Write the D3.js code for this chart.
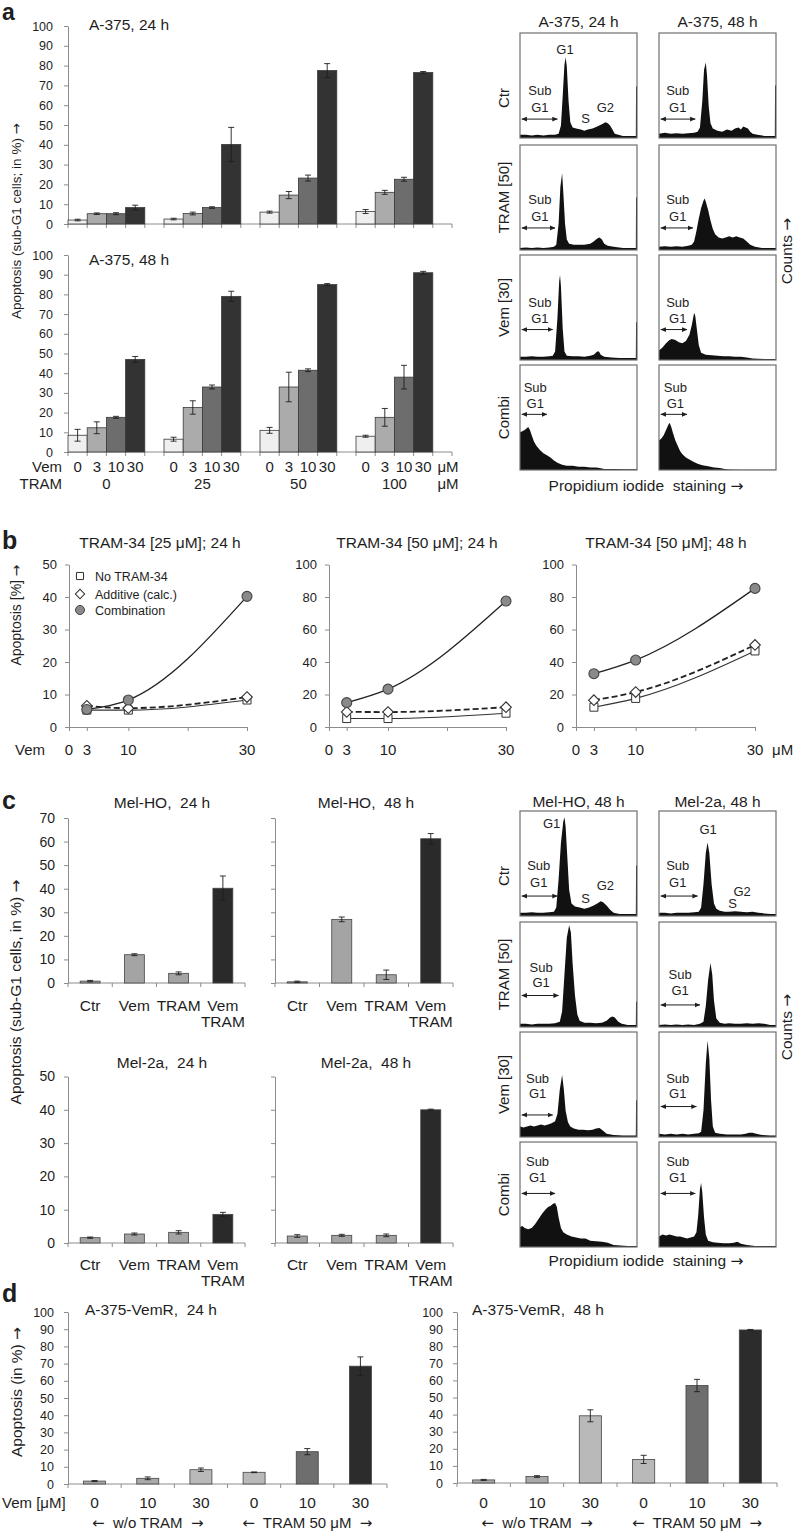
<!DOCTYPE html>
<html><head><meta charset="utf-8">
<script src="https://cdn.jsdelivr.net/npm/d3@7"></script>
<style>
body{margin:0;background:#fff;}
svg{display:block;font-family:"Liberation Sans",Arial,Helvetica,sans-serif;}
text{white-space:pre;}
</style></head><body>
<svg id="fig" width="798" height="1534"></svg>
<script>
// ---------------- DATA ----------------
// Panel a: grouped bars (Vem doses within TRAM doses)
const aVem = ["0","3","10","30"];
const aTram = ["0","25","50","100"];
const a24Values = [[2,5.2,5.2,8.3],[2.5,5.3,8.3,40.2],[6,14.6,23.2,77.5],[6.3,16,22.6,76.5]];
const a24Errors = [[0.4,0.4,0.5,1.2],[0.4,0.7,0.4,8.6],[0.5,1.8,1.5,3.5],[1,1,1,0.5]];
const a48Values = [[8.5,12.3,17.6,47],[6.5,22.6,33,79],[11,33,41.5,85],[8,17.6,38,91]];
const a48Errors = [[3,3,0.5,1.5],[1,3.4,1,2.6],[1.5,7.5,0.7,0.5],[0.5,4.5,6,0.7]];
const aColors = ["#efefef","#ababab","#6d6d6d","#333333"];

// Panel b: line charts
const bVem = [3,10,30];
const bTicks = [0,3,10,20,30];
const bTickLabels = [0,3,10,30];
const b1None = [5.2,5.2,8.3], b1Add = [6.5,5.8,9.2], b1Comb = [5.4,8.3,40.2];
const b2None = [5.2,5.2,8.5], b2Add = [9.3,9.2,12.2], b2Comb = [15,23.3,77.5];
const b3None = [12.2,17.6,46.8], b3Add = [16.5,21.5,50.5], b3Comb = [32.8,41.2,85.3];
const bLegend = ["No TRAM-34","Additive (calc.)","Combination"];

// Panel c: bars
const cCats = ["Ctr","Vem","TRAM","Vem TRAM"];
const cHO24 = [0.8,12,4.1,40.2], cHO24Err = [0.3,0.4,0.6,5.2];
const cHO48 = [0.5,27,3.5,61.2], cHO48Err = [0.3,1,2,2.2];
const c2a24 = [1.6,2.7,3.2,8.6], c2a24Err = [0.2,0.3,0.5,0.6];
const c2a48 = [2.1,2.3,2.3,40], c2a48Err = [0.4,0.3,0.4,0.2];
const cColors = ["#a4a4a4","#a4a4a4","#a4a4a4","#2a2a2a"];

// Panel d: bars
const dVem = ["0","10","30","0","10","30"];
const dGroups = ["w/o TRAM","TRAM 50 \u03bcM"];
const d24 = [1.7,3.3,8.3,6.8,18.8,68.5], d24Err = [0.3,0.8,1,0.2,1.8,5.4];
const d48 = [1.8,3.8,39.3,13.8,57,89.5], d48Err = [0.3,0.5,3.5,2.4,3.6,0.3];
const dColors = ["#a9a9a9","#a9a9a9","#b9b9b9","#b9b9b9","#6e6e6e","#2c2c2c"];

// Histograms: [PI channel %, relative count %]
const hA_ctr24 = [[0,3],[5,3],[10,2.5],[15,3],[20,2.5],[25,3],[30,3],[33,4],[35,12],[36.5,40],[38,70],[39,77],[40,68],[41.5,35],[43,15],[45,10],[48,9],[52,8],[55,7],[58,8],[62,9],[66,11],[70,13],[73,15],[75,14],[77,12],[79,8],[81,4],[84,3],[88,2],[92,2],[96,2],[99,2],[99.2,49],[100,49]];
const hA_ctr48 = [[0,4],[5,5],[10,4],[15,4.5],[20,4],[25,4.5],[30,5],[33,6],[35,10],[37,35],[38.5,65],[40,72],[41,60],[42.5,30],[44,14],[46,9],[50,7],[54,6],[58,8],[62,7],[65,9],[68,10],[70,8],[72,11],[74,10],[76,9],[78,6],[80,4],[84,3],[90,2],[95,2],[99,2],[99.2,50],[100,50]];
const hA_tram24 = [[0,2],[5,2.5],[10,2],[15,2.5],[20,2],[25,2.5],[29,3],[31,5],[33,25],[34.5,60],[36,73],[37,55],[38.5,25],[40,10],[42,6],[46,5],[50,5],[55,5],[60,6],[63,8],[66,11],[68,12],[70,10],[72,6],[75,4],[80,3],[88,2],[95,2],[99,2],[99.2,50],[100,50]];
const hA_tram48 = [[0,3],[5,3.5],[10,3],[15,3.5],[20,3],[25,4],[28,5],[30,8],[32,18],[34,30],[36,40],[38,47],[39,49],[40,46],[42,38],[44,28],[46,20],[48,15],[51,12],[54,11],[57,12],[60,13],[63,12],[66,13],[69,12],[72,11],[75,8],[78,5],[82,3],[88,2],[95,2],[100,2]];
const hA_vem24 = [[0,3],[5,3],[10,3.5],[15,3],[20,3],[25,3.5],[28,4],[30,8],[32,40],[33.5,75],[34.2,81],[35,70],[36.5,30],[38,8],[40,4],[45,3.5],[50,3.5],[55,3],[60,4],[63,5],[66,8],[67.5,8],[69,5],[72,3],[78,2.5],[85,2],[92,2],[99,2],[99.2,36],[100,36]];
const hA_vem48 = [[0,9],[3,12],[6,16],[9,19],[11,20],[14,19],[17,17],[20,16],[23,18],[26,24],[28,33],[30,45],[31,42],[32.5,28],[34,14],[36,7],[40,5],[45,4.5],[50,4],[55,3.5],[60,3.5],[65,3],[70,3],[75,2.5],[80,1.5],[90,1],[100,1]];
const hA_comb24 = [[0,36],[2,37],[4,38],[6,40],[7,41],[8.5,38],[10,33],[12,27],[14,23],[17,19],[20,16],[23,14],[26,12],[29,9],[32,7],[36,5],[40,4],[45,4],[50,3],[55,3],[60,2.5],[65,2.5],[68,2],[72,1],[80,1],[90,0.8],[100,0.8]];
const hA_comb48 = [[0,28],[2,30],[4,33],[6,38],[8,43],[9,45],[10.5,41],[12,35],[14,28],[16,23],[18,18],[20,15],[23,12],[26,10],[29,8],[33,6],[37,4.5],[42,3.5],[47,2.5],[52,2],[56,1],[60,0.5],[70,0.3],[100,0.3]];
const hC_ctrHO = [[0,3],[5,3],[10,3.5],[15,3],[20,3],[25,3.5],[29,4],[31,8],[33,35],[35,70],[37,90],[38,94],[39,85],[40.5,55],[42,25],[44,12],[47,9],[51,8],[55,7],[59,8],[63,10],[66,12],[69,14],[71,13],[74,10],[77,6],[80,3],[85,2],[92,2],[99,2],[99.2,48],[100,48]];
const hC_ctr2a = [[0,3],[5,3],[10,2.5],[15,3],[20,3],[25,3],[30,3.5],[34,4],[36,8],[38,30],[40,60],[41.5,70],[43,60],[45,30],[47,12],[49,7],[52,5],[56,4],[60,4],[65,4.5],[70,4],[75,3.5],[80,4],[85,3],[90,2.5],[95,2],[100,2]];
const hC_tramHO = [[0,3],[5,3],[10,2.5],[15,3],[20,3],[25,3],[30,3.5],[34,5],[36,15],[38,50],[40,85],[42,97],[43.5,90],[45,60],[47,30],[49,12],[51,6],[55,4],[60,4],[65,3.5],[70,4],[74,6],[77,9],[79,10],[81,9],[84,5],[87,3],[92,2],[99,2],[99.2,24],[100,24]];
const hC_tram2a = [[0,2],[5,2.5],[10,2],[15,2.5],[20,2],[25,2.5],[30,2],[35,3],[38,5],[40,20],[42,45],[44,61],[45.5,50],[47,25],[49,8],[52,4],[56,3],[60,3.5],[65,3],[70,3],[75,3.5],[80,3],[85,3.5],[90,3],[95,2],[100,2]];
const hC_vemHO = [[0,10],[3,9],[6,10],[9,11],[12,10],[15,11],[18,12],[21,11],[24,12],[27,13],[30,15],[32,22],[34,45],[36,59],[37.5,45],[39,25],[41,14],[43,10],[46,8],[50,7],[54,7],[58,6.5],[62,7],[65,8],[68,8.5],[71,6],[74,3],[80,2],[88,1.5],[95,1.5],[99,1.5],[99.2,35],[100,35]];
const hC_vem2a = [[0,3],[5,2.5],[10,3],[15,2.5],[20,3],[25,2.5],[30,3],[34,3.5],[36,5],[38,25],[40,70],[41.5,92],[43,75],[44.5,35],[46,10],[48,4],[52,3],[58,2.5],[64,2.5],[70,2.5],[74,3],[77,4],[80,4],[83,3],[88,2],[95,1.5],[100,1.5]];
const hC_combHO = [[0,19],[2,20],[4,18],[7,17],[10,18],[13,22],[16,27],[19,32],[22,36],[24,38],[26,39],[28,41],[30,42],[31.5,38],[33,28],[35,18],[37,14],[40,12],[44,10],[48,9],[52,8],[56,8],[60,6],[65,5.5],[70,5],[75,4],[80,2],[86,1.5],[92,1],[100,1]];
const hC_comb2a = [[0,10],[3,12],[6,11],[9,12],[12,11],[15,10],[18,10],[21,9],[24,8],[27,9],[30,10],[32,14],[33.5,30],[35,55],[36,61],[37,52],[38.5,28],[40,12],[42,6],[46,4.5],[50,4],[55,3.5],[60,3.5],[64,4],[67,5],[70,3],[75,2],[82,1],[90,1],[100,1]];
const histRowLabels = ["Ctr","TRAM [50]","Vem [30]","Combi"];

// ---------------- DRAWING ----------------
const INK = "#1e1e1e", AXIS = "#8c8c8c";
const svg = d3.select("#fig");
const defs = svg.append("defs");
defs.append("marker").attr("id","ah").attr("viewBox","0 0 8 8").attr("refX",7.5).attr("refY",4)
  .attr("markerWidth",5.5).attr("markerHeight",5.5).attr("orient","auto-start-reverse")
  .append("path").attr("d","M0,0.5 L8,4 L0,7.5 Z").attr("fill",INK);

function fillText(t,s){
  s.split(/([\u2190\u2192])/).forEach(p=>{
    if(!p) return;
    const ts=t.append("tspan").text(p);
    if(/[\u2190\u2192]/.test(p)) ts.attr("font-family","DejaVu Sans");
  });
  return t;
}
function text(g,x,y,s,o={}){
  const t=g.append("text").attr("x",x).attr("y",y).attr("font-size",o.size||13)
   .attr("text-anchor",o.anchor||"start").attr("fill",INK);
  fillText(t,s);
  if(o.weight) t.attr("font-weight",o.weight);
  return t;
}
function vtext(g,cx,cy,s,size){
  const t=g.append("text").attr("transform",`translate(${cx},${cy}) rotate(-90)`)
   .attr("text-anchor","middle").attr("font-size",size).attr("fill",INK);
  fillText(t,s);
}
function styleAxis(sel,fs){
  sel.attr("font-family",null).attr("font-size",fs||12);
  sel.select(".domain").attr("stroke",AXIS);
  sel.selectAll(".tick line").attr("stroke",AXIS);
  sel.selectAll(".tick text").attr("fill",INK);
}
function errorBars(g,recs,cx,y,cap){
  recs.forEach(d=>{
    const x0=cx(d), lo=y(Math.max(0,d.val-d.err)), hi=y(d.val+d.err);
    g.append("line").attr("x1",x0).attr("x2",x0).attr("y1",lo).attr("y2",hi).attr("stroke",INK).attr("stroke-width",0.9);
    [lo,hi].forEach(yy=>g.append("line").attr("x1",x0-cap).attr("x2",x0+cap).attr("y1",yy).attr("y2",yy).attr("stroke",INK).attr("stroke-width",0.9));
  });
}
const root = svg.append("g");

// panel letters
text(root,2,20,"a",{size:23,weight:"bold"});
text(root,2,549,"b",{size:25,weight:"bold"});
text(root,2,809,"c",{size:25,weight:"bold"});
text(root,2,1302,"d",{size:25,weight:"bold"});

// ---- Panel a bars
function drawGroupedBars(yZero,yFull,vals,errs,title,titleY){
  const g=svg.append("g");
  const x=d3.scaleBand().domain(d3.range(20)).range([68,452]).padding(0);
  const y=d3.scaleLinear().domain([0,100]).range([yZero,yFull]);
  const ax=g.append("g").attr("transform","translate(68,0)")
    .call(d3.axisLeft(y).tickValues(d3.range(0,101,10)).tickSize(4).tickSizeOuter(0).tickPadding(11));
  styleAxis(ax,12.5);
  g.append("line").attr("x1",68).attr("x2",452).attr("y1",yZero).attr("y2",yZero).attr("stroke",AXIS);
  d3.range(21).forEach(i=>{
    const px=i<20?x(i):x.range()[1];
    g.append("line").attr("x1",px).attr("x2",px).attr("y1",yZero).attr("y2",yZero+4).attr("stroke",AXIS);
  });
  const recs=aTram.flatMap((t,gi)=>aVem.map((v,vi)=>({slot:gi*5+vi,val:vals[gi][vi],err:errs[gi][vi],vi})));
  g.selectAll("rect.bar").data(recs).join("rect").attr("class","bar")
    .attr("x",d=>x(d.slot)).attr("y",d=>y(d.val)).attr("width",x.bandwidth())
    .attr("height",d=>yZero-y(d.val)).attr("fill",d=>aColors[d.vi]).attr("stroke","#3a3a3a").attr("stroke-width",0.8);
  errorBars(g,recs,d=>x(d.slot)+x.bandwidth()/2,y,3);
  text(g,89,titleY,title,{size:15.5});
  return x;
}
drawGroupedBars(224,26,a24Values,a24Errors,"A-375, 24 h",30);
const xa=drawGroupedBars(452,255,a48Values,a48Errors,"A-375, 48 h",265);
{
  const g=svg.append("g");
  text(g,62,472,"Vem",{size:15,anchor:"end"});
  text(g,62,489,"TRAM",{size:15,anchor:"end"});
  aTram.forEach((t,gi)=>{
    aVem.forEach((v,vi)=>text(g,xa(gi*5+vi)+xa.bandwidth()/2,472,v,{size:15,anchor:"middle"}));
    text(g,xa(gi*5)+2*xa.bandwidth(),489,t,{size:15,anchor:"middle"});
  });
  text(g,448,472,"\u03bcM",{size:15,anchor:"middle"});
  text(g,448,489,"\u03bcM",{size:15,anchor:"middle"});
  vtext(g,21,221,"Apoptosis (sub-G1 cells; in %) \u2192",13.5);
}

// ---- Histograms
function drawHist(x0,y0,w,h,pts,ann){
  const g=svg.append("g");
  const x=d3.scaleLinear().domain([0,100]).range([x0,x0+w]);
  const y=d3.scaleLinear().domain([0,100]).range([y0+h,y0]);
  const area=d3.area().x(d=>x(d[0])).y0(y(0)).y1(d=>y(d[1]));
  g.append("path").datum(pts).attr("d",area).attr("fill","#111");
  g.append("rect").attr("x",x0).attr("y",y0).attr("width",w).attr("height",h)
    .attr("fill","none").attr("stroke","#6f6f6f").attr("stroke-width",1.2);
  g.append("line").attr("x1",x(1.5)).attr("x2",x(ann.end)).attr("y1",y(ann.ay)).attr("y2",y(ann.ay))
    .attr("stroke",INK).attr("stroke-width",1).attr("marker-start","url(#ah)").attr("marker-end","url(#ah)");
  text(g,x(ann.sx),y(ann.sub)+4.5,"Sub",{size:13,anchor:"middle"});
  text(g,x(ann.sx),y(ann.g1)+4.5,"G1",{size:13,anchor:"middle"});
  (ann.extra||[]).forEach(e=>text(g,x(e[1]),y(e[2])+4.5,e[0],{size:13,anchor:"middle"}));
}
const histCols=[520,659], histW=117, histH=105;
function drawHistBlock(rowsY,hists,anns,titles,titleY,piY,countsY){
  const g=svg.append("g");
  titles.forEach((t,i)=>text(g,histCols[i]+histW/2,titleY,t,{size:15.5,anchor:"middle"}));
  rowsY.forEach((ry,r)=>{
    const cy = r===0 ? ry+histH*0.62 : ry+histH/2;
    vtext(g,509,cy,histRowLabels[r],15);
    hists[r].forEach((hd,c)=>drawHist(histCols[c],ry,histW,histH,hd,anns[r][c]));
  });
  text(g,646,piY,"Propidium iodide  staining \u2192",{size:15.5,anchor:"middle"});
  vtext(g,792,countsY,"Counts \u2192",15.5);
}
drawHistBlock([33,145,255,365],
  [[hA_ctr24,hA_ctr48],[hA_tram24,hA_tram48],[hA_vem24,hA_vem48],[hA_comb24,hA_comb48]],
  [[{sx:17,sub:45,g1:29,ay:18,end:32,extra:[["G1",38.5,84],["S",56,19],["G2",73,29]]},{sx:16,sub:45,g1:29,ay:18,end:31}],
   [{sx:17,sub:48,g1:32,ay:21,end:30},{sx:16,sub:48,g1:32,ay:21,end:29}],
   [{sx:17,sub:55,g1:40,ay:29,end:28},{sx:16,sub:55,g1:40,ay:29,end:24}],
   [{sx:13,sub:79,g1:63,ay:53,end:23},{sx:14,sub:79,g1:63,ay:53,end:24}]],
  ["A-375, 24 h","A-375, 48 h"],27,491,251);
drawHistBlock([811,922,1032,1142],
  [[hC_ctrHO,hC_ctr2a],[hC_tramHO,hC_tram2a],[hC_vemHO,hC_vem2a],[hC_combHO,hC_comb2a]],
  [[{sx:16,sub:48,g1:32,ay:19,end:32,extra:[["G1",27,88],["S",56,17],["G2",73,29]]},{sx:16,sub:48,g1:32,ay:19,end:33,extra:[["G1",42,82],["S",63,12],["G2",71,23]]}],
   [{sx:18,sub:57,g1:42,ay:30,end:33},{sx:18,sub:50,g1:35,ay:21,end:35}],
   [{sx:15,sub:56,g1:41,ay:21,end:28},{sx:16,sub:56,g1:41,ay:29,end:32}],
   [{sx:15,sub:81,g1:66,ay:51,end:30},{sx:16,sub:81,g1:66,ay:51,end:31}]],
  ["Mel-HO, 48 h","Mel-2a, 48 h"],807,1266,1027);

// ---- Panel b lines
function drawLines(xa0,x30,yMax,yStep,none,add,comb,title,titleCx,legend,um){
  const g=svg.append("g");
  const x=d3.scaleLinear().domain([0,30]).range([xa0,x30]);
  const y=d3.scaleLinear().domain([0,yMax]).range([727,564.5]);
  const ya=g.append("g").attr("transform",`translate(${x(0)},0)`)
    .call(d3.axisLeft(y).tickValues(d3.range(0,yMax+1,yStep)).tickSize(4).tickSizeOuter(0).tickPadding(8));
  styleAxis(ya,13);
  const xg=g.append("g").attr("transform",`translate(0,${y(0)})`)
    .call(d3.axisBottom(x).tickValues(bTicks).tickSize(4).tickSizeOuter(0).tickFormat(""));
  styleAxis(xg,13);
  bTickLabels.forEach(v=>text(g,x(v),755,String(v),{size:15,anchor:"middle"}));
  if(um) text(g,x(30)+17,755,"\u03bcM",{size:15});
  text(g,titleCx,548,title,{size:15.5,anchor:"middle"});
  const line=d3.line().x((d,i)=>x(bVem[i])).y(d=>y(d)).curve(d3.curveMonotoneX);
  g.append("path").datum(none).attr("d",line).attr("fill","none").attr("stroke","#333").attr("stroke-width",1.1);
  g.append("path").datum(add).attr("d",line).attr("fill","none").attr("stroke","#222").attr("stroke-width",1.8).attr("stroke-dasharray","6,3");
  g.append("path").datum(comb).attr("d",line).attr("fill","none").attr("stroke","#222").attr("stroke-width",1.3);
  const sq=d3.symbol().type(d3.symbolSquare).size(64), di=d3.symbol().type(d3.symbolSquare).size(56);
  g.selectAll("path.sq").data(none).join("path").attr("class","sq").attr("d",sq)
    .attr("transform",(d,i)=>`translate(${x(bVem[i])},${y(d)})`).attr("fill","#fff").attr("stroke","#333").attr("stroke-width",1);
  g.selectAll("path.di").data(add).join("path").attr("class","di").attr("d",di)
    .attr("transform",(d,i)=>`translate(${x(bVem[i])},${y(d)}) rotate(45)`).attr("fill","#fff").attr("stroke","#333").attr("stroke-width",1.1);
  g.selectAll("circle.cb").data(comb).join("circle").attr("class","cb").attr("r",5)
    .attr("cx",(d,i)=>x(bVem[i])).attr("cy",d=>y(d)).attr("fill","#8a8a8a").attr("stroke","#444").attr("stroke-width",1.1);
  if(legend){
    const ly=[576,594,610], lx=80;
    g.append("path").attr("d",d3.symbol().type(d3.symbolSquare).size(50)).attr("transform",`translate(${lx},${ly[0]})`).attr("fill","#fff").attr("stroke","#333");
    g.append("path").attr("d",d3.symbol().type(d3.symbolSquare).size(44)).attr("transform",`translate(${lx},${ly[1]}) rotate(45)`).attr("fill","#fff").attr("stroke","#333");
    g.append("circle").attr("r",4.5).attr("cx",lx).attr("cy",ly[2]).attr("fill","#8a8a8a").attr("stroke","#444");
    bLegend.forEach((s,i)=>text(g,95,ly[i]+4.5,s,{size:12.5}));
  }
}
drawLines(69,247,50,10,b1None,b1Add,b1Comb,"TRAM-34 [25 \u03bcM]; 24 h",160,true,false);
drawLines(329,506,100,20,b2None,b2Add,b2Comb,"TRAM-34 [50 \u03bcM]; 24 h",417,false,false);
drawLines(576,755,100,20,b3None,b3Add,b3Comb,"TRAM-34 [50 \u03bcM]; 48 h",666,false,true);
{
  const g=svg.append("g");
  text(g,15,755,"Vem",{size:15});
  vtext(g,21,615,"Apoptosis [%] \u2192",14);
}

// ---- Category bar charts (panels c, d)
function drawCatBars(o){
  const g=svg.append("g");
  const n=o.vals.length;
  const x=d3.scaleBand().domain(d3.range(n)).range([o.x0,o.x1]).paddingInner(o.pad).paddingOuter(o.pad/2);
  const y=d3.scaleLinear().domain([0,o.yMax]).range([o.yZero,o.yTop]);
  const ax=g.append("g").attr("transform",`translate(${o.x0},0)`)
    .call(d3.axisLeft(y).tickValues(d3.range(0,o.yMax+1,o.step)).tickSize(4).tickSizeOuter(0).tickPadding(o.tickPad)
      .tickFormat(o.tickLabels?d3.format("d"):""));
  styleAxis(ax,o.tickFs);
  g.append("line").attr("x1",o.x0).attr("x2",o.x1).attr("y1",o.yZero).attr("y2",o.yZero).attr("stroke",AXIS);
  d3.range(n+1).forEach(i=>{
    const px=o.x0+i*x.step();
    g.append("line").attr("x1",px).attr("x2",px).attr("y1",o.yZero).attr("y2",o.yZero+4).attr("stroke",AXIS);
  });
  const recs=o.vals.map((v,i)=>({i,val:v,err:o.errs[i]}));
  g.selectAll("rect").data(recs).join("rect").attr("x",d=>x(d.i)).attr("y",d=>y(d.val))
    .attr("width",x.bandwidth()).attr("height",d=>o.yZero-y(d.val))
    .attr("fill",d=>o.colors[d.i]).attr("stroke","#444").attr("stroke-width",0.8);
  errorBars(g,recs,d=>x(d.i)+x.bandwidth()/2,y,3);
  o.labels.forEach((lab,i)=>{
    lab.split(" ").forEach((ln,k)=>text(g,x(i)+x.bandwidth()/2,o.labY+k*16,ln,{size:15.5,anchor:"middle"}));
  });
  if(o.title) text(g,o.titleX,o.titleY,o.title,{size:15.5,anchor:o.titleAnchor||"middle"});
  return x;
}
// Panel c
drawCatBars({vals:cHO24,errs:cHO24Err,colors:cColors,labels:cCats,x0:68,x1:245,pad:0.55,yZero:983,yTop:818,yMax:70,step:10,tickLabels:true,tickFs:14,tickPad:9,labY:1011,title:"Mel-HO,  24 h",titleX:162,titleY:808});
drawCatBars({vals:cHO48,errs:cHO48Err,colors:cColors,labels:cCats,x0:275,x1:453,pad:0.55,yZero:983,yTop:818,yMax:70,step:10,tickLabels:false,tickFs:14,tickPad:9,labY:1011,title:"Mel-HO,  48 h",titleX:366,titleY:808});
drawCatBars({vals:c2a24,errs:c2a24Err,colors:cColors,labels:cCats,x0:68,x1:245,pad:0.55,yZero:1243,yTop:1076.5,yMax:50,step:10,tickLabels:true,tickFs:14,tickPad:9,labY:1270,title:"Mel-2a,  24 h",titleX:162,titleY:1068});
drawCatBars({vals:c2a48,errs:c2a48Err,colors:cColors,labels:cCats,x0:275,x1:453,pad:0.55,yZero:1243,yTop:1076.5,yMax:50,step:10,tickLabels:false,tickFs:14,tickPad:9,labY:1270,title:"Mel-2a,  48 h",titleX:366,titleY:1068});
vtext(svg,21,992,"Apoptosis (sub-G1 cells, in %) \u2192",15.5);

// Panel d
function drawD(x0,x1,yZero,vals,errs,title,titleX){
  const x=drawCatBars({vals,errs,colors:dColors,labels:dVem,x0,x1,pad:0.586,yZero,yTop:1312,yMax:100,step:10,tickLabels:true,tickFs:12.5,tickPad:10,labY:1508,title,titleX,titleY:1315,titleAnchor:"start"});
  const g=svg.append("g");
  [1,4].forEach((ci,k)=>text(g,x(ci)+x.bandwidth()/2,1528,"\u2190  "+dGroups[k]+"  \u2192",{size:15,anchor:"middle"}));
}
drawD(68,387,1484,d24,d24Err,"A-375-VemR,  24 h",85);
drawD(457,777,1483,d48,d48Err,"A-375-VemR,  48 h",472);
text(svg,2,1508,"Vem [\u03bcM]",{size:15});
vtext(svg,22,1392,"Apoptosis (in %) \u2192",15.5);
</script>
</body></html>
